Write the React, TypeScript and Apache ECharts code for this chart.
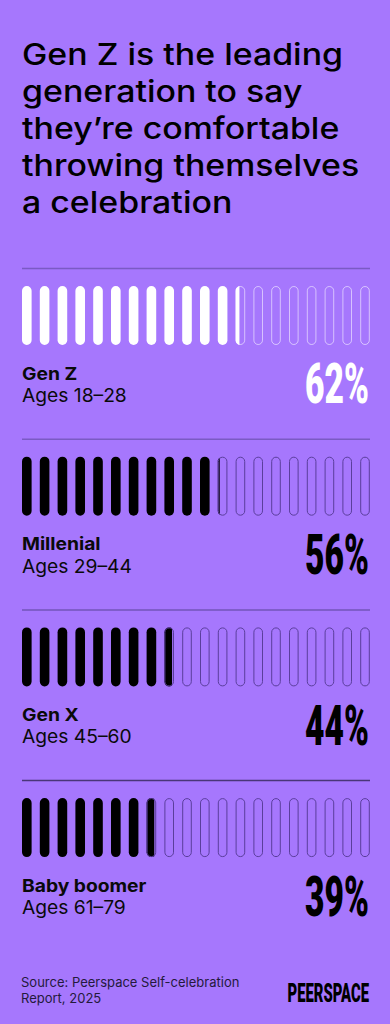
import React, { useEffect, useRef } from 'react';
import * as echarts from 'echarts';

const titleLines = ['Gen Z is the leading', 'generation to say', 'they’re comfortable', 'throwing themselves', 'a celebration'];
const generations = ['Gen Z', 'Millenial', 'Gen X', 'Baby boomer'];
const ageRanges = ['Ages 18–28', 'Ages 29–44', 'Ages 45–60', 'Ages 61–79'];
const shares = [62, 56, 44, 39];
const sourceLines = ['Source: Peerspace Self-celebration', 'Report, 2025'];
const brand = 'PEERSPACE';

const PILLS = 20;
const PILL_UNIT = 100 / PILLS;

const BG = '#A677FD';
const fillColors = ['#FFFFFF', '#000000', '#000000', '#000000'];
const outlineColors = ['rgba(255,255,255,0.55)', '#5A3E9C', '#5A3E9C', '#5A3E9C'];
const pctColors = ['#FFFFFF', '#000000', '#000000', '#000000'];
const sepColors = ['#7A5AC4', '#7A5AC4', '#7254B8', '#4A3678'];

const ROW0 = 268.5;
const ROW_GAP = 170.7;
const LEFT = 22;
const PLOT_W = 356;

function makeRenderItem(rowIdx: number) {
  return (params: any, api: any) => {
    const v = api.value(0);
    const cs = params.coordSys;
    const y0 = cs.y;
    const h = cs.height;
    const step = api.coord([PILL_UNIT, 0])[0] - api.coord([0, 0])[0];
    const w = step * 0.54;
    const r = w / 2;
    const children: any[] = [];
    for (let i = 0; i < PILLS; i++) {
      const x0 = api.coord([i * PILL_UNIT, 0])[0];
      const f = Math.max(0, Math.min(1, v / PILL_UNIT - i));
      if (f >= 1) {
        children.push({
          type: 'rect',
          shape: { x: x0, y: y0, width: w, height: h, r },
          style: { fill: fillColors[rowIdx] },
        });
      } else {
        if (f > 0) {
          const fw = f * w;
          const pts: number[][] = [];
          const N = 14;
          for (let k = 0; k <= N; k++) {
            const x = fw - (fw * k) / N;
            const dx = x - r;
            const yt = r - Math.sqrt(Math.max(0, r * r - dx * dx));
            pts.push([x0 + x, y0 + yt]);
          }
          for (let k = 0; k <= N; k++) {
            const x = (fw * k) / N;
            const dx = x - r;
            const yt = r - Math.sqrt(Math.max(0, r * r - dx * dx));
            pts.push([x0 + x, y0 + h - yt]);
          }
          children.push({
            type: 'polygon',
            shape: { points: pts },
            style: { fill: fillColors[rowIdx] },
          });
        }
        children.push({
          type: 'rect',
          shape: { x: x0 + 0.5, y: y0 + 0.5, width: w - 1, height: h - 1, r: r - 0.5 },
          style: { fill: 'none', stroke: outlineColors[rowIdx], lineWidth: 1 },
        });
      }
    }
    return { type: 'group', children };
  };
}

export default function App() {
  const ref = useRef<HTMLDivElement>(null);
  useEffect(() => {
    if (!ref.current) return;
    const chart = echarts.init(ref.current, null, { renderer: 'svg' });
    const grids: any[] = [];
    const xAxes: any[] = [];
    const yAxes: any[] = [];
    const series: any[] = [];
    const graphics: any[] = [];

    graphics.push({
      type: 'text',
      x: 22,
      y: 35.5,
      scaleX: 1.13,
      style: {
        text: titleLines.join('\n'),
        font: '500 30px Inter',
        lineHeight: 37,
        fill: '#000000',
        textAlign: 'left',
        textVerticalAlign: 'top',
      },
    });

    shares.forEach((val, k) => {
      const s = ROW0 + k * ROW_GAP;
      grids.push({ left: LEFT, width: PLOT_W, top: s + 17.5, height: 59 });
      xAxes.push({ type: 'value', min: 0, max: 100, show: false, gridIndex: k });
      yAxes.push({ type: 'value', min: 0, max: 1, show: false, gridIndex: k });
      series.push({
        type: 'custom',
        xAxisIndex: k,
        yAxisIndex: k,
        clip: false,
        silent: true,
        data: [[val, 0]],
        renderItem: makeRenderItem(k),
      });
      graphics.push({
        type: 'line',
        shape: { x1: LEFT, y1: s, x2: 370, y2: s },
        style: { stroke: sepColors[k], lineWidth: 1.5 },
      });
      graphics.push({
        type: 'text',
        x: LEFT,
        y: s + 104.5,
        scaleX: 1.1,
        style: {
          text: generations[k],
          font: '700 17.5px Inter',
          fill: '#0A0A0A',
          textAlign: 'left',
          textVerticalAlign: 'middle',
        },
      });
      graphics.push({
        type: 'text',
        x: LEFT,
        y: s + 127,
        scaleX: 1.04,
        style: {
          text: ageRanges[k],
          font: '400 18.5px Inter',
          fill: '#0A0A0A',
          textAlign: 'left',
          textVerticalAlign: 'middle',
        },
      });
      graphics.push({
        type: 'text',
        x: 369,
        y: s + 115.5,
        scaleX: 0.6,
        style: {
          text: val + '%',
          font: '900 56px Roboto',
          fill: pctColors[k],
          textAlign: 'right',
          textVerticalAlign: 'middle',
        },
      });
    });

    sourceLines.forEach((line, i) => {
      graphics.push({
        type: 'text',
        x: 21,
        y: 981.5 + i * 16.7,
        style: {
          text: line,
          font: '400 13px Inter',
          fill: '#241A3C',
          textAlign: 'left',
          textVerticalAlign: 'middle',
        },
      });
    });
    graphics.push({
      type: 'text',
      x: 369,
      y: 992.4,
      scaleX: 0.57,
      style: {
        text: brand,
        font: '900 26px Roboto',
        fill: '#000000',
        textAlign: 'right',
        textVerticalAlign: 'middle',
      },
    });

    chart.setOption({
      animation: false,
      backgroundColor: BG,
      grid: grids,
      xAxis: xAxes,
      yAxis: yAxes,
      series,
      graphic: graphics,
    });
    return () => chart.dispose();
  }, []);
  return (
    <div
      ref={ref}
      style={{ position: 'absolute', left: 0, top: 0, width: 390, height: 1024 }}
    />
  );
}
